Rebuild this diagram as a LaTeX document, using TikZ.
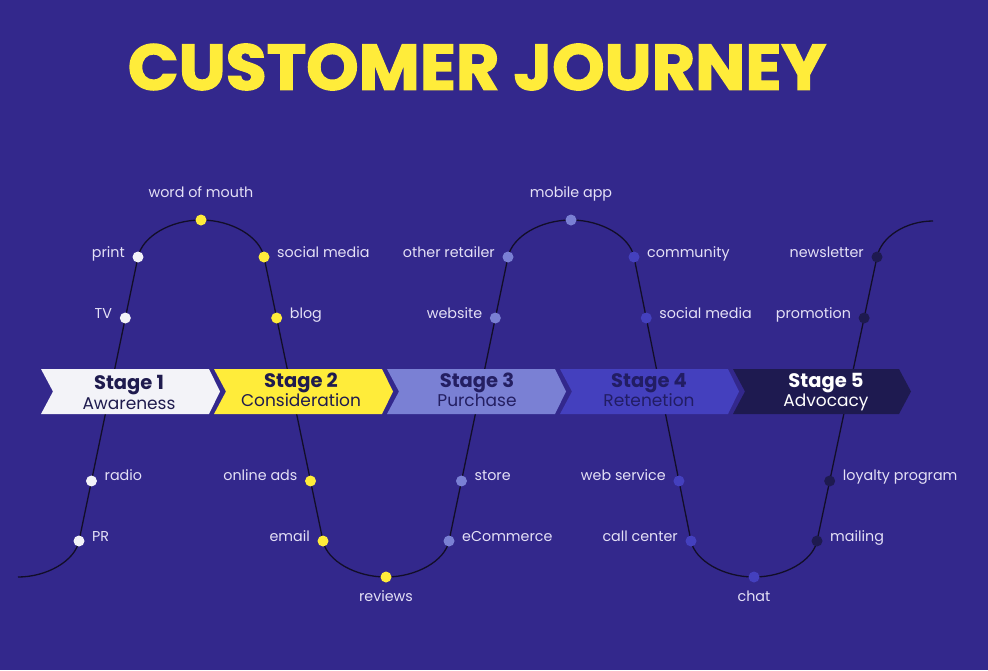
\documentclass[tikz,border=0pt]{standalone}
\usepackage{graphicx}
\usepackage{fontspec}
\setmainfont{Poppins}
\newfontfamily\titlefont{Poppins}[BoldFeatures={FakeBold=2}]
\usetikzlibrary{calc}
\definecolor{bgc}{RGB}{51,40,140}
\definecolor{yel}{RGB}{255,236,58}
\definecolor{s1c}{RGB}{243,243,248}
\definecolor{s3c}{RGB}{122,128,212}
\definecolor{s4c}{RGB}{68,64,190}
\definecolor{s5c}{RGB}{30,26,80}
\definecolor{navy}{RGB}{31,27,78}
\definecolor{navy3}{RGB}{36,31,98}
\definecolor{navy4}{RGB}{34,29,100}
\definecolor{labc}{RGB}{228,224,246}
\definecolor{wavec}{RGB}{18,14,40}
\pgfdeclarelayer{back}
\pgfdeclarelayer{wave}
\pgfsetlayers{back,wave,main}
\begin{document}
\begin{tikzpicture}[x=1pt,y=-1pt,
  dot/.style={circle,inner sep=0pt,minimum size=11pt},
  lab/.style={text=labc,inner sep=0pt,font=\fontsize{14.3}{16}\selectfont},
  stitle/.style={anchor=base,inner sep=0pt,font=\fontsize{19.5}{22}\selectfont\bfseries},
  ssub/.style={anchor=base,inner sep=0pt,font=\fontsize{17}{19}\selectfont},
  le/.style={lab,anchor=base east},
  lw/.style={lab,anchor=base west}]
\useasboundingbox (0,0) rectangle (988,670);
\begin{pgfonlayer}{back}
\fill[bgc] (0,0) rectangle (988,670);
\end{pgfonlayer}

% title
\node[inner sep=0pt,text=yel] (title) at (477,67) {\resizebox{698pt}{46pt}{\titlefont\bfseries CUSTOMER JOURNEY}};

% stage chevrons
\fill[s1c] (41,369) -- (209,369) -- (220,391.5) -- (209,414) -- (41,414) -- (53,391.5) -- cycle;
\fill[yel] (214,369) -- (382,369) -- (393,391.5) -- (382,414) -- (214,414) -- (226,391.5) -- cycle;
\fill[s3c] (387,369) -- (555,369) -- (566,391.5) -- (555,414) -- (387,414) -- (399,391.5) -- cycle;
\fill[s4c] (560,369) -- (728,369) -- (739,391.5) -- (728,414) -- (560,414) -- (572,391.5) -- cycle;
\fill[s5c] (733,369) -- (899,369) -- (911,391.5) -- (899,414) -- (733,414) -- (745,391.5) -- cycle;

\node[stitle,text=navy] (st1) at (129,389.5) {Stage 1};
\node[ssub,text=navy] (ss1) at (129,409) {Awareness};
\node[stitle,text=navy] (st2) at (301,387.5) {Stage 2};
\node[ssub,text=navy] (ss2) at (301,406.5) {Consideration};
\node[stitle,text=navy3] (st3) at (477,387.5) {Stage 3};
\node[ssub,text=navy3] (ss3) at (477,406.5) {Purchase};
\node[stitle,text=navy4] (st4) at (649,387.5) {Stage 4};
\node[ssub,text=navy4] (ss4) at (649,406.5) {Retenetion};
\node[stitle,text=white] (st5) at (826,387.5) {Stage 5};
\node[ssub,text=white] (ss5) at (826,406.5) {Advocacy};

% dots stage 1
\node[dot,fill=s1c] (PR) at (79,541) {};
\node[dot,fill=s1c] (print) at (138,257) {};
\node[dot,fill=s1c] (radio) at ($(PR)!0.2113!(print)$) {};
\node[dot,fill=s1c] (TV) at ($(PR)!0.7852!(print)$) {};
% stage 2
\node[dot,fill=yel] (wom) at (201,220) {};
\node[dot,fill=yel] (soc1) at (264,257) {};
\node[dot,fill=yel] (email) at (323,541) {};
\node[dot,fill=yel] (blog) at ($(soc1)!0.2148!(email)$) {};
\node[dot,fill=yel] (ads) at ($(soc1)!0.7887!(email)$) {};
\node[dot,fill=yel] (reviews) at (386,577) {};
% stage 3
\node[dot,fill=s3c] (ecom) at (449,541) {};
\node[dot,fill=s3c] (other) at (508,257) {};
\node[dot,fill=s3c] (store) at ($(ecom)!0.2113!(other)$) {};
\node[dot,fill=s3c] (web) at ($(ecom)!0.7852!(other)$) {};
\node[dot,fill=s3c] (mobile) at (571,220) {};
% stage 4
\node[dot,fill=s4c] (comm) at (634,257) {};
\node[dot,fill=s4c] (call) at (691,541) {};
\node[dot,fill=s4c] (soc2) at ($(comm)!0.2148!(call)$) {};
\node[dot,fill=s4c] (websvc) at ($(comm)!0.7887!(call)$) {};
\node[dot,fill=s4c] (chat) at (754,577) {};
% stage 5
\node[dot,fill=s5c] (mailing) at (817,541) {};
\node[dot,fill=s5c] (news) at (877,257) {};
\node[dot,fill=s5c] (loyal) at ($(mailing)!0.2113!(news)$) {};
\node[dot,fill=s5c] (promo) at ($(mailing)!0.7852!(news)$) {};

\coordinate (wstart) at (18,577);
\coordinate (wend) at (933,221);

\begin{pgfonlayer}{wave}
\draw[wavec,line width=1.3pt] (wstart) .. controls (47,577) and (74.9,560.8) .. (PR.center) -- (print.center)
  .. controls (142.1,236.6) and (170.5,220) .. (wom.center)
  .. controls (231.5,220) and (259.9,236.6) .. (soc1.center) -- (email.center)
  .. controls (327.1,560.8) and (355.5,577) .. (reviews.center)
  .. controls (416.5,577) and (444.9,560.8) .. (ecom.center) -- (other.center)
  .. controls (512.1,236.6) and (540.5,220) .. (mobile.center)
  .. controls (601.5,220) and (629.9,236.6) .. (comm.center) -- (call.center)
  .. controls (695.1,560.8) and (723.5,577) .. (chat.center)
  .. controls (784.5,577) and (812.9,560.8) .. (mailing.center) -- (news.center)
  .. controls (881.1,236.6) and (906,221) .. (wend);
\end{pgfonlayer}

% labels
\node[le] (lprint) at ([xshift=-13pt]print.center) {print};
\node[le] (lTV) at ([xshift=-13pt]TV.center) {TV};
\node[lw] (lradio) at ([xshift=13pt]radio.center) {radio};
\node[lw] (lPR) at ([xshift=13pt]PR.center) {PR};
\node[lab,anchor=base] (lwom) at ([yshift=23pt]wom.center) {word of mouth};
\node[lw] (lsoc1) at ([xshift=13pt]soc1.center) {social media};
\node[lw] (lblog) at ([xshift=13pt]blog.center) {blog};
\node[le] (lads) at ([xshift=-13pt]ads.center) {online ads};
\node[le] (lemail) at ([xshift=-13pt]email.center) {email};
\node[lab,anchor=base] (lreviews) at ([yshift=-24pt]reviews.center) {reviews};
\node[lw] (lecom) at ([xshift=13pt]ecom.center) {eCommerce};
\node[lw] (lstore) at ([xshift=13pt]store.center) {store};
\node[le] (lweb) at ([xshift=-13pt]web.center) {website};
\node[le] (lother) at ([xshift=-13pt]other.center) {other retailer};
\node[lab,anchor=base] (lmobile) at ([yshift=23pt]mobile.center) {mobile app};
\node[lw] (lcomm) at ([xshift=13pt]comm.center) {community};
\node[lw] (lsoc2) at ([xshift=13pt]soc2.center) {social media};
\node[le] (lwebsvc) at ([xshift=-13pt]websvc.center) {web service};
\node[le] (lcall) at ([xshift=-13pt]call.center) {call center};
\node[lab,anchor=base] (lchat) at ([yshift=-24pt]chat.center) {chat};
\node[lw] (lmailing) at ([xshift=13pt]mailing.center) {mailing};
\node[lw] (lloyal) at ([xshift=13pt]loyal.center) {loyalty program};
\node[le] (lpromo) at ([xshift=-13pt]promo.center) {promotion};
\node[le] (lnews) at ([xshift=-13pt]news.center) {newsletter};
\end{tikzpicture}
\end{document}
